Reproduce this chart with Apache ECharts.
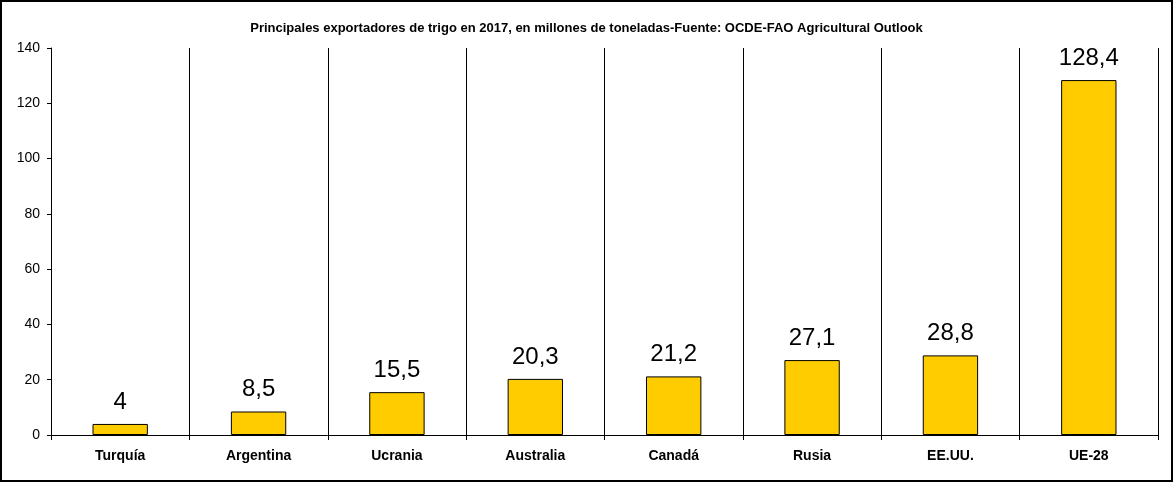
<!DOCTYPE html>
<html>
<head>
<meta charset="utf-8">
<script src="https://cdn.jsdelivr.net/npm/echarts@6/dist/echarts.min.js"></script>
<style>
  html, body { margin: 0; padding: 0; background: #fff; }
  #main { width: 1173px; height: 482px; }
</style>
</head>
<body>
<div id="main"></div>
<script>
// data
var countries = ['Turquía', 'Argentina', 'Ucrania', 'Australia', 'Canadá', 'Rusia', 'EE.UU.', 'UE-28'];
var exports2017 = [4, 8.5, 15.5, 20.3, 21.2, 27.1, 28.8, 128.4];
var titleText = 'Principales exportadores de trigo en 2017, en millones de toneladas-Fuente: OCDE-FAO Agricultural Outlook';

var chart = echarts.init(document.getElementById('main'));

chart.setOption({
  animation: false,
  backgroundColor: '#fff',
  textStyle: { fontFamily: 'Arial, "Liberation Sans", sans-serif', color: '#000' },
  title: {
    text: titleText,
    left: 'center',
    top: 17,
    textStyle: { fontSize: 13, fontWeight: 'bold', color: '#000' }
  },
  graphic: [{
    type: 'rect',
    shape: { x: 1, y: 1, width: 1171, height: 480 },
    style: { fill: 'none', stroke: '#000', lineWidth: 2 },
    silent: true
  }],
  grid: { left: 51, right: 15, top: 48, bottom: 47, containLabel: false },
  xAxis: {
    type: 'category',
    data: countries,
    axisLine: { lineStyle: { color: '#000', width: 1 } },
    axisTick: { show: true, length: 5, lineStyle: { color: '#000' } },
    axisLabel: { fontSize: 14, fontWeight: 'bold', color: '#000', margin: 14 },
    splitLine: { show: true, lineStyle: { color: '#000', width: 1 } }
  },
  yAxis: {
    type: 'value',
    min: 0,
    max: 140,
    interval: 20,
    axisLine: { show: true, lineStyle: { color: '#000', width: 1 } },
    axisTick: { show: true, length: 4, lineStyle: { color: '#000' } },
    axisLabel: { fontSize: 14, color: '#000', margin: 11 },
    splitLine: { show: false }
  },
  series: [{
    type: 'bar',
    data: exports2017,
    barWidth: '40%',
    itemStyle: { color: '#FFCC00', borderColor: '#000', borderWidth: 1 },
    label: {
      show: true,
      position: 'top',
      distance: 10,
      fontSize: 24,
      color: '#000',
      formatter: function (p) { return String(p.value).replace('.', ','); }
    }
  }]
});
</script>
</body>
</html>
